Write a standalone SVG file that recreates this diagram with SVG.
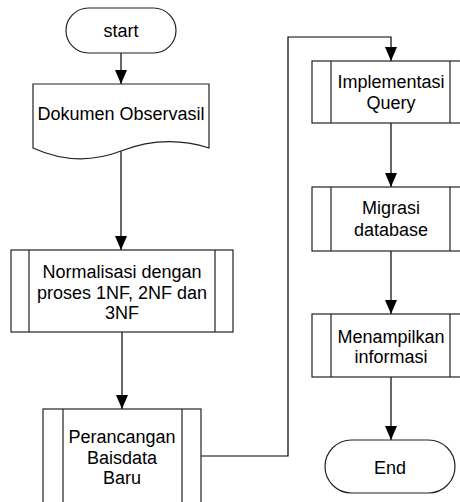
<svg xmlns="http://www.w3.org/2000/svg" width="460" height="502" viewBox="0 0 460 502">
<defs>
<marker id="arr" markerWidth="14" markerHeight="12" refX="14" refY="6" orient="auto" markerUnits="userSpaceOnUse">
<path d="M0,0 L14,6 L0,12 Z" fill="#000"/>
</marker>
<style>
.s{fill:#fff;stroke:#222;stroke-width:1.2}
.l{fill:none;stroke:#222;stroke-width:1.2}
.c{fill:none;stroke:#000;stroke-width:1.2;marker-end:url(#arr)}
text{font-family:"Liberation Sans",Arial,sans-serif;font-size:18px;fill:#000;text-anchor:middle}
</style>
</defs>
<rect width="460" height="502" fill="#fff"/>
<g id="connectors">
<path class="c" d="M121,53 V84"/>
<path class="c" d="M121,151 V250"/>
<path class="c" d="M122,332 V409"/>
<path class="c" d="M201,456 H288 V37 H391 V61"/>
<path class="c" d="M391,123 V187"/>
<path class="c" d="M391,251 V314"/>
<path class="c" d="M391,377 V440"/>
</g>
<g id="start">
<rect class="s" x="66" y="8" width="110" height="45" rx="22.5"/>
<text x="121" y="37">start</text>
</g>
<g id="dokumen">
<path class="s" d="M33,84 H209 V148 Q165,134 121,151 Q77,168 33,148 Z"/>
<text x="121" y="120">Dokumen Observasil</text>
</g>
<g id="normalisasi">
<rect class="s" x="11" y="250" width="222" height="82"/>
<path class="l" d="M29,250 V332 M215,250 V332"/>
<text x="122" y="278">Normalisasi dengan</text>
<text x="122" y="299">proses 1NF, 2NF dan</text>
<text x="122" y="319">3NF</text>
</g>
<g id="perancangan">
<rect class="s" x="43" y="409" width="158" height="110"/>
<path class="l" d="M63,409 V519 M182,409 V519"/>
<text x="122" y="443">Perancangan</text>
<text x="122" y="464">Baisdata</text>
<text x="122" y="484">Baru</text>
</g>
<g id="implementasi">
<rect class="s" x="312" y="61" width="158" height="62"/>
<path class="l" d="M331,61 V123 M450,61 V123"/>
<text x="391" y="88">Implementasi</text>
<text x="391" y="109">Query</text>
</g>
<g id="migrasi">
<rect class="s" x="312" y="187" width="158" height="64"/>
<path class="l" d="M331,187 V251 M450,187 V251"/>
<text x="391" y="214">Migrasi</text>
<text x="391" y="236">database</text>
</g>
<g id="menampilkan">
<rect class="s" x="312" y="314" width="158" height="63"/>
<path class="l" d="M331,314 V377 M450,314 V377"/>
<text x="391" y="343">Menampilkan</text>
<text x="391" y="363">informasi</text>
</g>
<g id="end">
<rect class="s" x="325" y="440" width="130" height="53" rx="26.5"/>
<text x="390" y="474">End</text>
</g>
</svg>
